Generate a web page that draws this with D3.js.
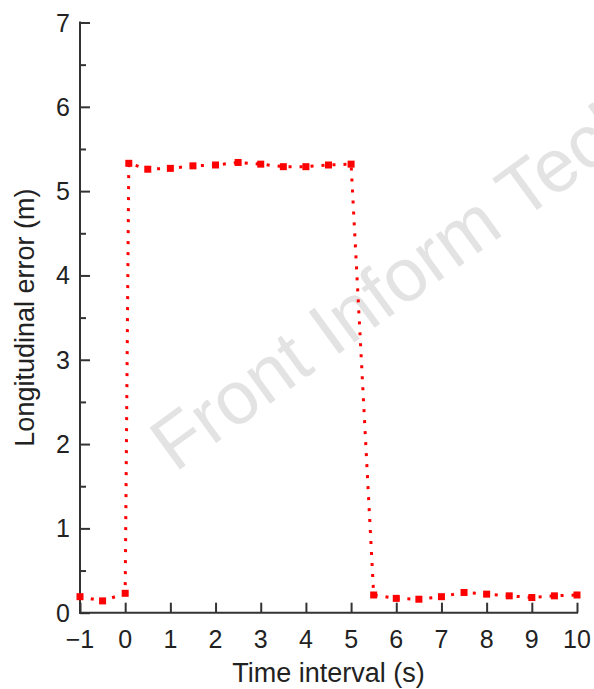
<!DOCTYPE html>
<html>
<head>
<meta charset="utf-8">
<script src="https://cdn.jsdelivr.net/npm/d3@7"></script>
<style>
    body { margin: 0; background: #fff; }
    text { font-family: "Liberation Sans", Arial, sans-serif; }
</style>
</head>
<body>
<svg id="chart"></svg>
<script>

// time (s) and longitudinal error (m)
const timeValues = [-1, -0.5, 0, 0.08, 0.5, 1, 1.5, 2, 2.5, 3, 3.5, 4, 4.5, 5,
    5.5, 6, 6.5, 7, 7.5, 8, 8.5, 9, 9.5, 10];
const errorValues = [0.19, 0.14, 0.23, 5.33, 5.26, 5.27, 5.30, 5.31, 5.34, 5.32, 5.29, 5.29, 5.31, 5.32,
    0.21, 0.17, 0.16, 0.19, 0.24, 0.22, 0.20, 0.18, 0.20, 0.21];

const xTicks = [-1, 0, 1, 2, 3, 4, 5, 6, 7, 8, 9, 10];
const yTicks = [0, 1, 2, 3, 4, 5, 6, 7];
const yMinorTicks = [0.5, 1.5, 2.5, 3.5, 4.5, 5.5, 6.5];

const xTitle = "Time interval (s)";
const yTitle = "Longitudinal error (m)";
const watermark = "Front Inform Technol Electron Eng";

function drawChart() {

    var svgWidth = 594, svgHeight = 689;
    var axisColor = "#333";

    var svg = d3.select("#chart")
        .attr("width", svgWidth)
        .attr("height", svgHeight);

    var x = d3.scaleLinear()
        .domain([-1, 10])
        .range([80, 577]);

    var y = d3.scaleLinear()
        .domain([0, 7])
        .range([612.7, 22.5]);

    // watermark behind everything
    svg.append("text")
        .attr("transform", "translate(175,473) rotate(-36)")
        .attr("fill", "#e3e3e3")
        .style("font-size", "75px")
        .text(watermark);

    // y axis, ticks point inward
    var yAxis = svg.append("g")
        .attr("transform", "translate(" + x(-1) + ",0)")
        .call(d3.axisRight(y).tickValues(yTicks).tickSize(10).tickFormat(""));
    yAxis.selectAll(".tick line").attr("stroke", axisColor).attr("stroke-width", 2);
    yAxis.select(".domain").remove();

    svg.append("g")
        .attr("transform", "translate(" + x(-1) + ",0)")
        .call(d3.axisRight(y).tickValues(yMinorTicks).tickSize(6).tickFormat(""))
        .call(g => g.select(".domain").remove())
        .selectAll(".tick line").attr("stroke", axisColor).attr("stroke-width", 2);

    svg.append("line")
        .attr("x1", x(-1)).attr("x2", x(-1))
        .attr("y1", y(7) - 1).attr("y2", y(0) + 1)
        .attr("stroke", axisColor).attr("stroke-width", 2);

    svg.append("g")
        .selectAll("text")
        .data(yTicks)
        .join("text")
        .attr("x", 70)
        .attr("y", d => y(d))
        .attr("dy", "0.36em")
        .attr("text-anchor", "end")
        .attr("fill", "#222")
        .style("font-size", "25px")
        .text(d => d);

    // x axis, ticks point up
    var xAxis = svg.append("g")
        .attr("transform", "translate(0," + y(0) + ")")
        .call(d3.axisTop(x).tickValues(xTicks).tickSize(10).tickFormat(""));
    xAxis.selectAll(".tick line").attr("stroke", axisColor).attr("stroke-width", 2);
    xAxis.select(".domain").remove();

    svg.append("line")
        .attr("x1", x(-1) - 1).attr("x2", x(10) + 1)
        .attr("y1", y(0)).attr("y2", y(0))
        .attr("stroke", axisColor).attr("stroke-width", 2);

    svg.append("g")
        .selectAll("text")
        .data(xTicks)
        .join("text")
        .attr("x", d => x(d))
        .attr("y", 648)
        .attr("text-anchor", "middle")
        .attr("fill", "#222")
        .style("font-size", "25px")
        .text(d => d < 0 ? "\u2212" + Math.abs(d) : d);

    svg.append("text")
        .attr("x", (x(-1) + x(10)) / 2)
        .attr("y", 682)
        .attr("text-anchor", "middle")
        .attr("fill", "#222")
        .style("font-size", "27px")
        .text(xTitle);

    svg.append("text")
        .attr("transform", "translate(34," + (y(0) + y(7)) / 2 + ") rotate(-90)")
        .attr("text-anchor", "middle")
        .attr("fill", "#222")
        .style("font-size", "27px")
        .text(yTitle);

    // data
    var points = timeValues.map((t, i) => ({ t: t, v: errorValues[i] }));

    var line = d3.line()
        .x(d => x(d.t))
        .y(d => y(d.v));

    svg.append("path")
        .datum(points)
        .attr("fill", "none")
        .attr("stroke", "#ff0000")
        .attr("stroke-width", 3)
        .attr("stroke-dasharray", "3,8")
        .attr("d", line);

    svg.append("g")
        .selectAll("rect")
        .data(points)
        .join("rect")
        .attr("x", d => x(d.t) - 3.5)
        .attr("y", d => y(d.v) - 3.5)
        .attr("width", 7)
        .attr("height", 7)
        .attr("fill", "#ff0000");
}

drawChart();
</script>
</body>
</html>
